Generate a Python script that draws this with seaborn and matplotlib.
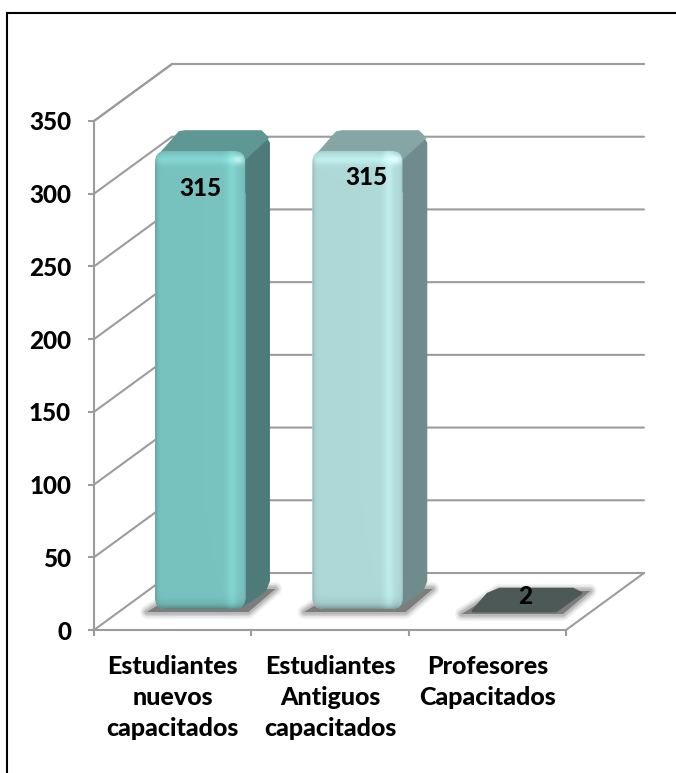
import numpy as np
import pandas as pd
import matplotlib
matplotlib.use("Agg")
import matplotlib.pyplot as plt
import seaborn as sns
from matplotlib.patches import FancyBboxPatch, Polygon
from matplotlib.lines import Line2D
from matplotlib.transforms import Affine2D

categories = ["Estudiantes\nnuevos\ncapacitados", "Estudiantes\nAntiguos\ncapacitados", "Profesores\nCapacitados"]
values = [315, 315, 2]
bar_colors = ["#78C3C0", "#AED9D8", "#4D5956"]
side_colors = ["#4E7B79", "#708B8B", "#3C4644"]
top_colors = ["#5F9795", "#86A6A5", "#4D5956"]
label_offsets = [(28, -17), (36, -6), (38, 31)]
yticks = [0, 50, 100, 150, 200, 250, 300, 350]

W, H = 676, 773
sns.set_theme(style="white")
plt.rcParams["font.family"] = ["Lato", "DejaVu Sans"]
GRAY = "#9C9C9C"
LEFT, RIGHT, BOTTOM, TOP = 94, 566, 630, 121
DX, DY = 78, -57            # wall depth
BDX, BDY = 27.5, -21        # bar offset from the front floor edge
SDX, SDY = 24, -20          # bar depth
FS = 17.5

fig = plt.figure(figsize=(W / 100, H / 100), dpi=100, facecolor="white")

def px_axes(z):
    a = fig.add_axes([0, 0, 1, 1], zorder=z)
    a.set_xlim(0, W)
    a.set_ylim(H, 0)
    a.axis("off")
    return a

back = px_axes(0)
ax = fig.add_axes([LEFT / W, 1 - BOTTOM / H, (RIGHT - LEFT) / W, (BOTTOM - TOP) / H], zorder=1)
ax.patch.set_visible(False)
front = px_axes(2)

df = pd.DataFrame({"cat": categories, "val": values})
sns.barplot(data=df, x="cat", y="val", hue="cat", palette=bar_colors, legend=False,
            width=0.573, ax=ax, saturation=1)
ax.set_xlim(-0.5, 2.5)
ax.set_ylim(0, 350)
ax.set_yticks(yticks)
ax.set_xticks([-0.5, 0.5, 1.5, 2.5], labels=[""] * 4)
ax.set_xticks([0, 1, 2], labels=categories, minor=True)
ax.set_xlabel("")
ax.set_ylabel("")
for s in ("top", "right"):
    ax.spines[s].set_visible(False)
for s in ("left", "bottom"):
    ax.spines[s].set_color(GRAY)
    ax.spines[s].set_linewidth(1.5)
ax.tick_params(axis="both", which="major", color=GRAY, width=1.5, length=4.5, direction="out",
               left=True, bottom=True)
ax.tick_params(axis="y", labelsize=FS, pad=12)
ax.tick_params(axis="x", which="minor", length=0, pad=18, labelsize=18)
for t in ax.get_yticklabels():
    t.set_fontweight("black"); t.set_color("black")
for t in ax.get_xticklabels(minor=True):
    t.set_fontweight("black"); t.set_color("black"); t.set_linespacing(1.42)

fig.canvas.draw()

def to_px(x, y):
    p = ax.transData.transform((x, y))
    return p[0], H - p[1]

# walls and floor
for v in yticks:
    x0, y0 = to_px(-0.5, v)
    back.plot([x0, x0 + DX, RIGHT + DX], [y0, y0 + DY, y0 + DY], color=GRAY, lw=1.5, solid_joinstyle="miter")
back.plot([RIGHT, RIGHT + DX], [BOTTOM, BOTTOM + DY], color=GRAY, lw=1.5)
back.plot([LEFT, LEFT + DX, RIGHT + DX], [TOP, TOP + DY, TOP + DY], color=GRAY, lw=1.5)

def rounded(xa, ya, xb, yb, r):
    """Rounded rectangle path in pixel coordinates."""
    return FancyBboxPatch((xa + r, ya + r), xb - xa - 2 * r, yb - ya - 2 * r,
                          boxstyle=f"round,pad={r},rounding_size={r}", fc="none", ec="none")

bars = [p for p in ax.patches if p.get_height() > 0]
shift = ax.transData + Affine2D().translate(BDX, BDY)
for i, p in enumerate(bars):
    xc = p.get_x()
    xa, yb = to_px(xc, 0)
    xb, ya = to_px(xc + p.get_width(), p.get_height())
    xa += BDX; xb += BDX
    ya += BDY; yb += BDY
    tall = values[i] > 20

    # blurred floor shadow
    floor = yb + 3
    sh = [(xa - 8, floor), (xb + 3, floor), (xb + SDX + 6, floor + SDY - 3), (xa + SDX + 5, floor + SDY - 3)]
    if not tall:
        sh = [(x, y + 2) for x, y in sh]
    for lw, al in ((14, .08), (11, .12), (8, .18), (5, .28)):
        back.add_patch(Polygon(sh, closed=True, fc="#7A7A7A", ec="#7A7A7A", lw=lw * .72, alpha=al,
                               joinstyle="round", zorder=3))
    back.add_patch(Polygon(sh, closed=True, fc="#7D7D7D", ec="none", zorder=3))

    p.set_transform(shift)
    if tall:
        r = 11
        # right side and top faces
        side = [(xb - 6, ya + 6), (xb + SDX - 5, ya + SDY + 4), (xb + SDX, ya + SDY + 12),
                (xb + SDX, yb + SDY - 8), (xb + SDX - 4, yb + SDY + 2), (xb - 2, yb - 3), (xb - 10, yb)]
        back.add_patch(Polygon(side, closed=True, fc=side_colors[i], ec=side_colors[i], lw=1,
                               joinstyle="round", zorder=4))
        top = [(xa + 3, ya + 5), (xa + SDX, ya + SDY + 1), (xa + SDX + 6, ya + SDY),
               (xb + SDX - 8, ya + SDY), (xb + SDX - 1, ya + SDY + 7), (xb - 2, ya + 10),
               (xb - 10, ya + 2), (xa + 10, ya + 2)]
        back.add_patch(Polygon(top, closed=True, fc=top_colors[i], ec=top_colors[i], lw=1,
                               joinstyle="round", zorder=5))

        # rounded, shaded front face on top of the seaborn bar
        clip = rounded(xa, ya, xb, yb, r)
        front.add_patch(clip)
        p.set_clip_path(clip)
        nx, ny = int(xb - xa), int(yb - ya)
        u = np.linspace(0, 1, nx)
        hshade = 1 - .18 * np.exp(-u / .02) + .09 * np.exp(-((u - .85) / .06) ** 2) - .12 * np.exp(-(1 - u) / .012)
        px_y = np.arange(ny)
        vshade = 1 + .10 * np.exp(-((px_y - 9) / 5.) ** 2) - .30 * np.exp(-(ny - 1 - px_y) / 4.) - .10 * np.exp(-px_y / 1.5)
        base = np.array(matplotlib.colors.to_rgb(bar_colors[i]))
        img = np.clip(base[None, None, :] * (hshade[None, :] * vshade[:, None])[:, :, None], 0, 1)
        gx, gy = np.meshgrid(np.arange(nx), px_y)
        glint = np.exp(-(((gx - (nx - 8)) / 5.) ** 2 + ((gy - 9) / 4.) ** 2))[:, :, None] * .55
        img = img * (1 - glint) + glint
        im = front.imshow(img, extent=(xa, xb, yb, ya), interpolation="bilinear", aspect="auto", zorder=2)
        im.set_clip_path(clip)
    else:
        # the nearly empty bar only shows its top face
        p.set_alpha(0)
        q = [(xa + 3, yb + 2), (xb - 4, yb + 2), (xb + SDX - 3, ya + SDY + 7), (xb + SDX - 11, ya + SDY + 3),
             (xa + SDX + 6, ya + SDY + 3), (xa + SDX - 6, ya + SDY + 8)]
        back.add_patch(Polygon(q, closed=True, fc=bar_colors[i], ec=bar_colors[i], lw=2,
                               joinstyle="round", zorder=5))

front.set_xlim(0, W)
front.set_ylim(H, 0)

for i, (v, off) in enumerate(zip(values, label_offsets)):
    front.annotate(str(v), xy=to_px(i, v), xytext=(off[0], off[1]), textcoords="offset pixels",
                   ha="center", va="center", fontsize=FS, fontweight="black", color="black", zorder=5)

# chart border: only the top and left edges fall inside the picture
fig.add_artist(Line2D([7 / W, 7 / W, 1], [0, 1 - 13 / H, 1 - 13 / H], transform=fig.transFigure,
                      color="black", lw=1.5, solid_joinstyle="miter"))

fig.savefig("out.png", dpi=100)
